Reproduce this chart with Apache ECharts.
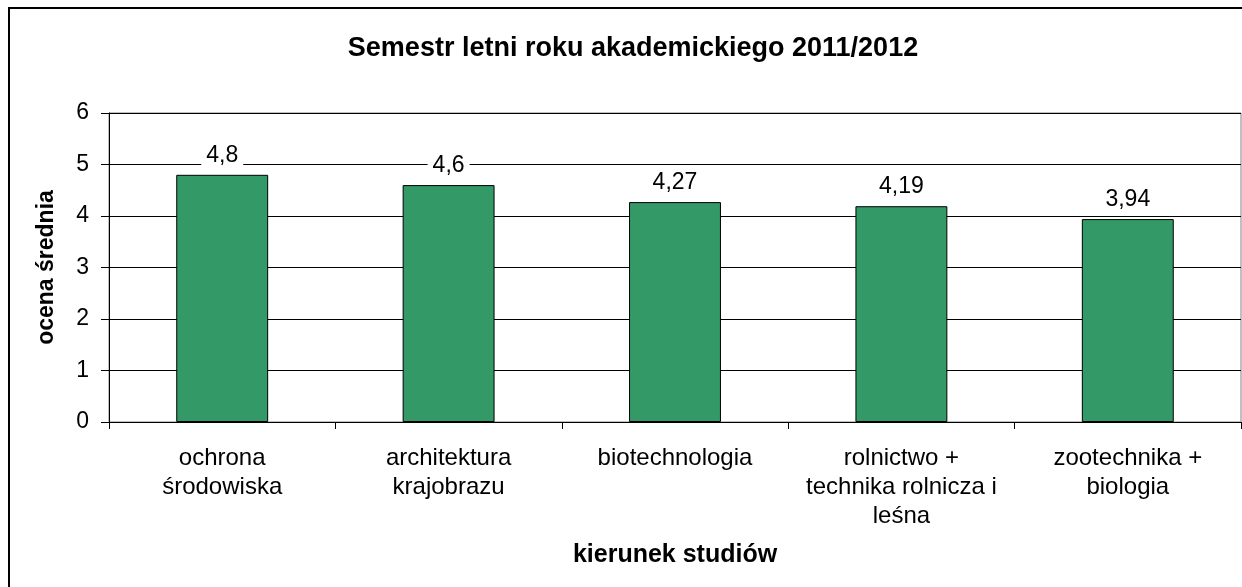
<!DOCTYPE html>
<html>
<head>
<meta charset="utf-8">
<script src="https://cdn.jsdelivr.net/npm/echarts@6/dist/echarts.min.js"></script>
<style>
  html, body { margin: 0; padding: 0; background: #fff; }
  #chart { width: 1242px; height: 587px; }
</style>
</head>
<body>
<div id="chart"></div>
<script>
const categories = [
  "ochrona\nśrodowiska",
  "architektura\nkrajobrazu",
  "biotechnologia",
  "rolnictwo +\ntechnika rolnicza i\nleśna",
  "zootechnika +\nbiologia",
];
const values = [4.8, 4.6, 4.27, 4.19, 3.94];
const yTicks = { min: 0, max: 6, interval: 1 };

const font = "'Liberation Sans', Arial, sans-serif";
const chart = echarts.init(document.getElementById("chart"), null, { renderer: "canvas" });

chart.setOption({
  animation: false,
  backgroundColor: "#fff",
  textStyle: { fontFamily: font, color: "#000" },
  title: {
    text: "Semestr letni roku akademickiego 2011/2012",
    left: 628, top: 30, textAlign: "center",
    textStyle: { fontFamily: font, fontSize: 27, fontWeight: "bold", color: "#000" },
  },
  graphic: [{
    type: "rect", silent: true, z: -1,
    shape: { x: 9, y: 8, width: 1250, height: 600 },
    style: { fill: "none", stroke: "#000", lineWidth: 2 },
  }],
  grid: {
    left: 109, right: 1, top: 113, bottom: 165,
    show: true, borderColor: "#808080", borderWidth: 1, backgroundColor: "transparent",
  },
  xAxis: {
    type: "category",
    data: categories,
    name: "kierunek studiów",
    nameLocation: "middle",
    nameGap: 121,
    nameTextStyle: { fontFamily: font, fontSize: 25, fontWeight: "bold", color: "#000" },
    axisLine: { lineStyle: { color: "#000", width: 1 } },
    axisTick: { show: true, length: 7, interval: 0, lineStyle: { color: "#000" } },
    axisLabel: {
      interval: 0, margin: 22, fontFamily: font, fontSize: 24, lineHeight: 29,
      color: "#000", align: "center",
    },
    splitLine: { show: false },
  },
  yAxis: {
    type: "value",
    min: yTicks.min, max: yTicks.max, interval: yTicks.interval,
    name: "ocena średnia",
    nameLocation: "middle",
    nameGap: 51,
    nameTextStyle: { fontFamily: font, fontSize: 23, fontWeight: "bold", color: "#000" },
    axisLine: { show: true, lineStyle: { color: "#000", width: 1 } },
    axisTick: { show: true, length: 8, lineStyle: { color: "#000" } },
    axisLabel: { margin: 20, fontFamily: font, fontSize: 23, color: "#000" },
    splitLine: { show: true, lineStyle: { color: "#000", width: 1 } },
  },
  series: [{
    type: "bar",
    data: values,
    barWidth: "40.6%",
    itemStyle: { color: "#339966", borderColor: "#000", borderWidth: 1 },
    label: {
      show: true, position: "top", distance: 7,
      fontFamily: font, fontSize: 23, color: "#000",
      backgroundColor: "#fff", padding: [1, 5],
      formatter: (p) => String(p.value).replace(".", ","),
    },
  }],
});
</script>
</body>
</html>
